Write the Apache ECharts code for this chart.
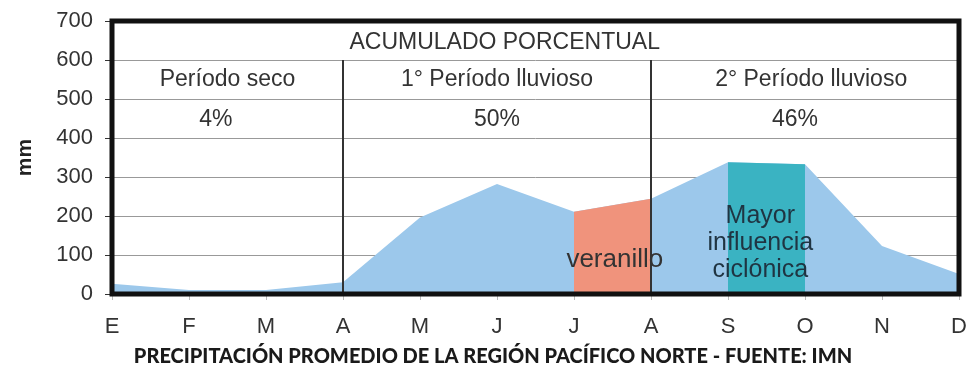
<!DOCTYPE html>
<html>
<head>
<meta charset="utf-8">
<script src="https://cdn.jsdelivr.net/npm/echarts@6/dist/echarts.min.js"></script>
<style>
  html, body { margin: 0; padding: 0; background: #fff; }
  #chart { width: 976px; height: 370px; }
</style>
</head>
<body>
<div id="chart"></div>
<script>
// Monthly mean precipitation (mm), Pacífico Norte
const months = ['E', 'F', 'M', 'A', 'M', 'J', 'J', 'A', 'S', 'O', 'N', 'D'];
const rainfall = [26, 10, 10, 30, 196, 282, 211, 244, 338, 333, 123, 51];
// Sub-periods highlighted over the main area
const veranillo = ['-', '-', '-', '-', '-', '-', 211, 244, '-', '-', '-', '-'];
const ciclonica = ['-', '-', '-', '-', '-', '-', '-', '-', 338, 333, '-', '-'];
const yTicks = { min: 0, max: 700, interval: 100 };
// Period boundaries (month index)
const periodBreaks = [3, 7];

const GRID = { left: 112, right: 17, top: 21, bottom: 76 };
const W = 976, H = 370;
const plotW = W - GRID.left - GRID.right;
const plotH = H - GRID.top - GRID.bottom;
const px = i => GRID.left + i * plotW / (months.length - 1);
const py = v => GRID.top + (yTicks.max - v) / (yTicks.max - yTicks.min) * plotH;

const FONT = '"Liberation Sans", Arial, sans-serif';
const textColor = '#333';

function label(text, i, v, size, extra) {
  return Object.assign({
    type: 'text',
    x: px(i), y: py(v), z: 50,
    style: {
      text: text, fill: textColor, font: (size || 23) + 'px ' + FONT,
      textAlign: 'center', textVerticalAlign: 'middle'
    }
  }, extra || {});
}

const chart = echarts.init(document.getElementById('chart'), null, { renderer: 'canvas' });

chart.setOption({
  animation: false,
  backgroundColor: '#fff',
  grid: Object.assign({
    show: true, z: 10, borderColor: '#111', borderWidth: 5,
    backgroundColor: 'transparent'
  }, GRID),
  xAxis: {
    type: 'category',
    data: months,
    boundaryGap: false,
    axisLine: { show: false },
    axisTick: { show: true, length: 6, lineStyle: { color: '#bbb', width: 1 } },
    axisLabel: { color: textColor, fontFamily: FONT, fontSize: 22, margin: 22 },
    splitLine: { show: false }
  },
  yAxis: {
    type: 'value',
    min: yTicks.min, max: yTicks.max, interval: yTicks.interval,
    name: 'mm',
    nameLocation: 'middle',
    nameRotate: 90,
    nameGap: 76,
    nameTextStyle: { color: '#222', fontFamily: FONT, fontSize: 21, fontWeight: 'bold' },
    axisLine: { show: false },
    axisTick: { show: true, length: 7, lineStyle: { color: '#333', width: 1 } },
    axisLabel: { color: textColor, fontFamily: FONT, fontSize: 22, margin: 19 },
    splitLine: { lineStyle: { color: '#999', width: 1 } }
  },
  series: [
    {
      type: 'line', data: rainfall, symbol: 'none', silent: true,
      lineStyle: { width: 0 },
      areaStyle: { color: '#9cc8eb', opacity: 1 }, z: 2
    },
    {
      type: 'line', data: veranillo, symbol: 'none', silent: true,
      lineStyle: { width: 0 },
      areaStyle: { color: '#f0937c', opacity: 1 }, z: 3
    },
    {
      type: 'line', data: ciclonica, symbol: 'none', silent: true,
      lineStyle: { width: 0 },
      areaStyle: { color: '#3ab3c2', opacity: 1 }, z: 3
    },
    {
      type: 'line', data: [], silent: true, z: 5,
      markLine: {
        silent: true, symbol: 'none', label: { show: false },
        lineStyle: { color: '#333', width: 2, type: 'solid' },
        data: periodBreaks.map(i => [{ coord: [i, 600] }, { coord: [i, 0] }])
      }
    }
  ],
  graphic: [
    label('ACUMULADO PORCENTUAL', 5.1, 644),
    label('Período seco', 1.5, 549),
    label('1° Período lluvioso', 5.0, 549),
    label('2° Período lluvioso', 9.08, 549),
    label('4%', 1.35, 446),
    label('50%', 5.0, 446),
    label('46%', 8.87, 446),
    label('veranillo', 6.53, 87, 26, { z: 60 }),
    {
      type: 'text', x: px(8.42), y: py(131), z: 60,
      style: {
        text: 'Mayor\ninfluencia\nciclónica', fill: '#1f3442',
        font: '25px ' + FONT, lineHeight: 27,
        textAlign: 'center', textVerticalAlign: 'middle'
      }
    },
    {
      type: 'text', x: W / 2 + 5, y: 357, z: 60,
      style: {
        text: 'PRECIPITACIÓN PROMEDIO DE LA REGIÓN PACÍFICO NORTE - FUENTE: IMN',
        fill: '#1a1a1a', font: '900 20px Lato, sans-serif',
        textAlign: 'center', textVerticalAlign: 'middle'
      }
    }
  ]
});
</script>
</body>
</html>
